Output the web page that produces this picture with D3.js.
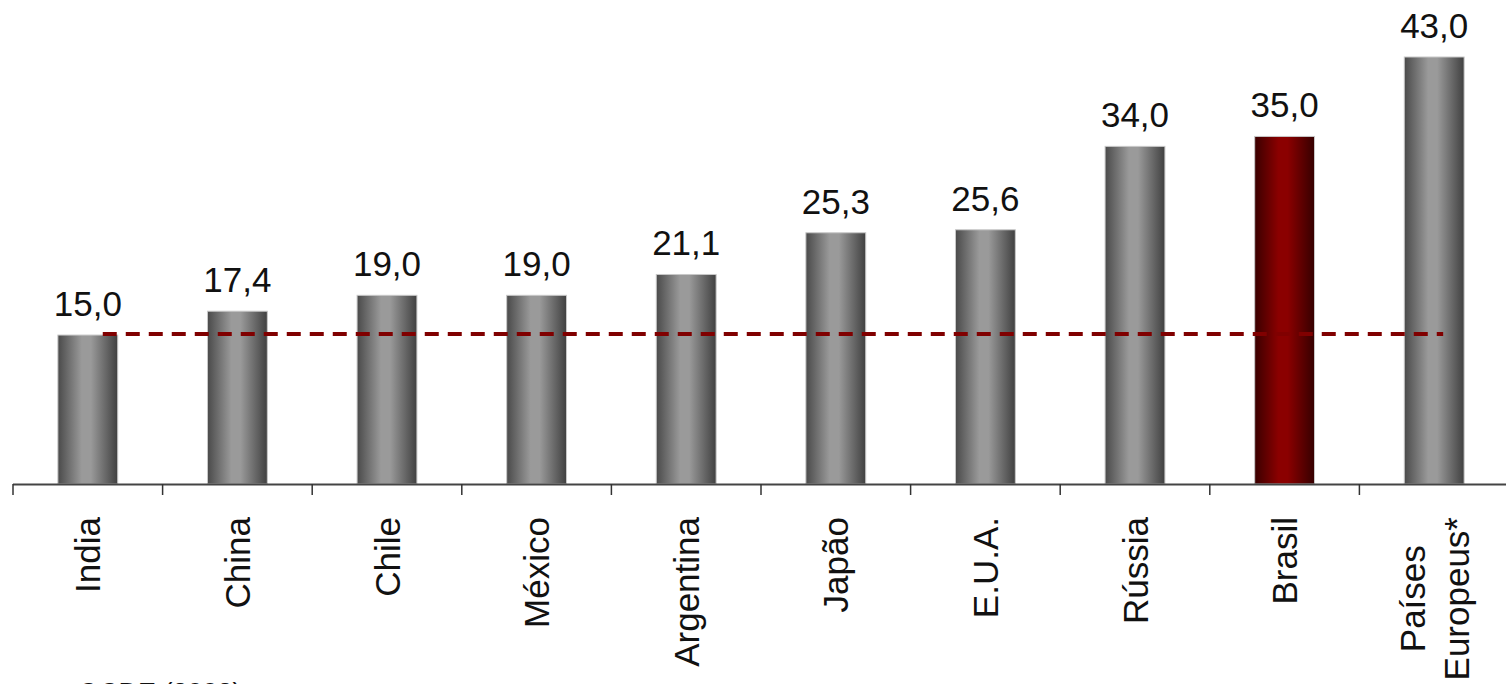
<!DOCTYPE html>
<html><head><meta charset="utf-8">
<script src="https://cdn.jsdelivr.net/npm/d3@7"></script>
<style>body{margin:0;background:#fff;overflow:hidden}svg{display:block}</style>
</head><body>
<svg id="c" width="1506" height="684"></svg>
<script>
const categories = ["India","China","Chile","México","Argentina","Japão","E.U.A.","Rússia","Brasil","Países Europeus*"];
const values = [15.0,17.4,19.0,19.0,21.1,25.3,25.6,34.0,35.0,43.0];
const labels = ["15,0","17,4","19,0","19,0","21,1","25,3","25,6","34,0","35,0","43,0"];
const highlight = ["Brasil"];
const refValue = [15.0];
const source = ["OCDE (2008)"];

const svg = d3.select("#c");
const font = "'Liberation Sans', Arial, sans-serif";
const x = d3.scaleBand().domain(categories).range([13, 1509]).paddingInner(0.6).paddingOuter(0.3);
const y = d3.scaleLinear().domain([0, 43]).range([484, 57]);

const defs = svg.append("defs");
function grad(id, edgeL, mid, edgeR){
  const g = defs.append("linearGradient").attr("id", id).attr("x1","0%").attr("x2","100%").attr("y1","0%").attr("y2","0%");
  g.append("stop").attr("offset","0%").attr("stop-color",edgeL);
  g.append("stop").attr("offset","40%").attr("stop-color",mid);
  g.append("stop").attr("offset","55%").attr("stop-color",mid);
  g.append("stop").attr("offset","100%").attr("stop-color",edgeR);
}
grad("gGray", "#4a4a4a", "#9a9a9a", "#404040");
grad("gRed", "#3a0000", "#8b0000", "#350000");

svg.selectAll("rect.bar").data(categories).join("rect")
  .attr("class","bar")
  .attr("x", d => x(d))
  .attr("width", x.bandwidth())
  .attr("y", (d,i) => y(values[i]))
  .attr("height", (d,i) => y(0) - y(values[i]))
  .attr("fill", d => highlight.includes(d) ? "url(#gRed)" : "url(#gGray)")
  .attr("stroke", "#c8c8c8").attr("stroke-width", 1);

// axis
const bounds = d3.range(categories.length + 1).map(i => 13 + i * (1496 / categories.length));
svg.append("line").attr("x1",13).attr("x2",1506).attr("y1",y(0)+0.5).attr("y2",y(0)+0.5)
  .attr("stroke","#444").attr("stroke-width",2);
svg.selectAll("line.tick").data(bounds).join("line").attr("class","tick")
  .attr("x1", d => d).attr("x2", d => d).attr("y1", y(0)).attr("y2", y(0)+11)
  .attr("stroke","#333").attr("stroke-width",1.5);

// value labels
svg.selectAll("text.val").data(categories).join("text").attr("class","val")
  .attr("x", d => x(d) + x.bandwidth()/2)
  .attr("y", (d,i) => y(values[i]) - 19)
  .attr("text-anchor","middle")
  .attr("font-family", font).attr("font-size", 35).attr("fill","#111")
  .text((d,i) => labels[i]);

// dashed reference line
svg.append("line")
  .attr("x1", x(categories[0]) + x.bandwidth()*0.75)
  .attr("x2", x(categories[categories.length-1]) + x.bandwidth()*0.65)
  .attr("y1", y(refValue[0]) - 1).attr("y2", y(refValue[0]) - 1)
  .attr("stroke","#800000").attr("stroke-width",4).attr("stroke-dasharray","14,9");

// category labels (rotated)
categories.forEach(c => {
  const cx = x(c) + x.bandwidth()/2;
  const parts = c === "Países Europeus*" ? ["Países","Europeus*"] : [c];
  const g = svg.append("g").attr("transform", `translate(${cx},517) rotate(-90)`);
  const lh = 44;
  const texts = parts.map((p, k) => g.append("text")
      .attr("x", 0)
      .attr("y", (k - (parts.length-1)/2) * lh + 12.5)
      .attr("text-anchor","end")
      .attr("font-family", font).attr("font-size", 35).attr("fill","#111")
      .text(p));
  const lens = texts.map(t => t.node().getComputedTextLength());
  const mx = Math.max(...lens);
  texts.forEach((t, k) => t.attr("x", -(mx - lens[k]) / 2));
});

svg.append("text").attr("x",78).attr("y",702)
  .attr("font-family", font).attr("font-size", 27).attr("fill","#111").text(source[0]);
</script>
</body></html>
